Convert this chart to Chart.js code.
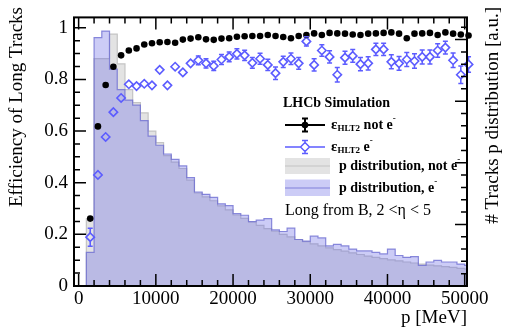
<!DOCTYPE html>
<html>
<head>
<meta charset="utf-8">
<script src="https://cdn.jsdelivr.net/npm/chart.js@4"></script>
<style>
  html, body { margin: 0; padding: 0; background: #fff; }
  #wrap { width: 506px; height: 327px; }
</style>
</head>
<body>
<div id="wrap"><canvas id="effChart" width="506" height="327"></canvas></div>
<script>
// momentum bins (lower edges, MeV), 1 GeV wide
var binWidth = 1000;
var binLow = [1000, 2000, 3000, 4000, 5000, 6000, 7000, 8000, 9000, 10000,
  11000, 12000, 13000, 14000, 15000, 16000, 17000, 18000, 19000, 20000,
  21000, 22000, 23000, 24000, 25000, 26000, 27000, 28000, 29000, 30000,
  31000, 32000, 33000, 34000, 35000, 36000, 37000, 38000, 39000, 40000,
  41000, 42000, 43000, 44000, 45000, 46000, 47000, 48000, 49000, 50000];

// HLT2 efficiency, tracks that are not electrons
var effNotE = [0.261, 0.618, 0.778, 0.849, 0.893, 0.912, 0.920, 0.935, 0.940, 0.944,
  0.945, 0.942, 0.954, 0.958, 0.963, 0.955, 0.953, 0.958, 0.959, 0.965,
  0.967, 0.968, 0.968, 0.972, 0.968, 0.964, 0.959, 0.968, 0.972, 0.978,
  0.972, 0.980, 0.978, 0.977, 0.974, 0.972, 0.977, 0.978, 0.980, 0.982,
  0.977, 0.959, 0.977, 0.978, 0.980, 0.972, 0.982, 0.977, 0.974, 0.970];
var errNotE = [0.012, 0.008, 0.006, 0.005, 0.004, 0.004, 0.004, 0.004, 0.004, 0.004,
  0.004, 0.004, 0.004, 0.004, 0.004, 0.004, 0.004, 0.004, 0.004, 0.004,
  0.004, 0.004, 0.004, 0.004, 0.004, 0.004, 0.005, 0.005, 0.005, 0.005,
  0.005, 0.005, 0.005, 0.005, 0.005, 0.005, 0.005, 0.005, 0.005, 0.005,
  0.005, 0.006, 0.005, 0.005, 0.005, 0.006, 0.005, 0.005, 0.006, 0.006];

// HLT2 efficiency, electrons
var effE = [0.189, 0.430, 0.577, 0.673, 0.728, 0.781, 0.774, 0.783, 0.777, 0.837,
  0.777, 0.849, 0.827, 0.862, 0.874, 0.862, 0.852, 0.877, 0.887, 0.899,
  0.893, 0.864, 0.880, 0.856, 0.824, 0.868, 0.880, 0.862, 0.947, 0.856,
  0.912, 0.887, 0.818, 0.884, 0.891, 0.859, 0.862, 0.916, 0.916, 0.868,
  0.862, 0.877, 0.871, 0.887, 0.887, 0.912, 0.923, 0.874, 0.818, 0.858];
var errE = [0.035, 0.012, 0.012, 0.012, 0.012, 0.012, 0.013, 0.013, 0.014, 0.014,
  0.015, 0.015, 0.016, 0.016, 0.017, 0.018, 0.018, 0.019, 0.019, 0.020,
  0.020, 0.021, 0.021, 0.022, 0.024, 0.022, 0.022, 0.023, 0.018, 0.024,
  0.022, 0.024, 0.028, 0.025, 0.025, 0.026, 0.026, 0.024, 0.024, 0.027,
  0.027, 0.027, 0.028, 0.027, 0.027, 0.026, 0.025, 0.028, 0.034, 0.030];

// momentum distributions (arbitrary units)
var histNotE = [0.260, 0.880, 0.880, 0.975, 0.860, 0.760, 0.710, 0.670, 0.600, 0.555,
  0.505, 0.480, 0.455, 0.410, 0.360, 0.345, 0.330, 0.310, 0.295, 0.275,
  0.262, 0.248, 0.235, 0.222, 0.212, 0.200, 0.190, 0.180, 0.172, 0.163,
  0.155, 0.148, 0.141, 0.135, 0.128, 0.122, 0.116, 0.111, 0.106, 0.101,
  0.097, 0.093, 0.089, 0.085, 0.081, 0.078, 0.075, 0.072, 0.068, 0.065];
var histE = [0.130, 0.962, 0.987, 0.840, 0.760, 0.720, 0.700, 0.640, 0.580, 0.545,
  0.511, 0.490, 0.465, 0.420, 0.364, 0.355, 0.343, 0.318, 0.311, 0.280,
  0.274, 0.249, 0.255, 0.261, 0.217, 0.211, 0.224, 0.180, 0.174, 0.193,
  0.186, 0.155, 0.161, 0.155, 0.143, 0.136, 0.136, 0.130, 0.124, 0.143,
  0.118, 0.111, 0.114, 0.080, 0.093, 0.099, 0.093, 0.093, 0.085, 0.080];

var xTicks = [0, 10000, 20000, 30000, 40000, 50000];
var yTicks = [0, 0.2, 0.4, 0.6, 0.8, 1];

var serif = "'Liberation Serif', 'Times New Roman', serif";
var blue = '#5c5cff';

var binCenter = binLow.map(function (lo) { return lo + binWidth / 2; });

function points(vals) {
  return vals.map(function (v, i) { return { x: binCenter[i], y: v }; });
}

// step outline: starts at zero on the first edge, closes on the last edge
function histSteps(vals) {
  var pts = [{ x: binLow[0], y: 0 }];
  binLow.forEach(function (lo, i) { pts.push({ x: lo, y: vals[i] }); });
  pts.push({ x: binLow[binLow.length - 1] + binWidth, y: vals[vals.length - 1] });
  return pts;
}

// draws a string made of pieces with their own size / vertical shift
function richText(ctx, parts, x, y) {
  parts.forEach(function (p) {
    ctx.font = (p.bold ? 'bold ' : '') + p.size + 'px ' + serif;
    ctx.fillText(p.t, x, y + (p.dy || 0));
    x += ctx.measureText(p.t).width;
  });
}

var rootStyle = {
  id: 'rootStyle',
  afterDatasetsDraw: function (chart) {
    var ctx = chart.ctx, xs = chart.scales.x, ys = chart.scales.y;
    // vertical error bars with small caps, kept outside the marker
    function bars(vals, errs, color, gap) {
      ctx.save();
      ctx.strokeStyle = color;
      ctx.lineWidth = 1.5;
      vals.forEach(function (v, i) {
        var px = xs.getPixelForValue(binCenter[i]);
        var py = ys.getPixelForValue(v);
        var top = ys.getPixelForValue(v + errs[i]);
        var bot = ys.getPixelForValue(v - errs[i]);
        ctx.beginPath();
        if (py - top > gap) {
          ctx.moveTo(px, py - gap); ctx.lineTo(px, top);
          ctx.moveTo(px - 2.5, top); ctx.lineTo(px + 2.5, top);
        }
        if (bot - py > gap) {
          ctx.moveTo(px, py + gap); ctx.lineTo(px, bot);
          ctx.moveTo(px - 2.5, bot); ctx.lineTo(px + 2.5, bot);
        }
        ctx.stroke();
      });
      ctx.restore();
    }
    bars(effE, errE, blue, 4.2);
    bars(effNotE, errNotE, '#000', 3.2);
  },
  afterDraw: function (chart) {
    var ctx = chart.ctx, a = chart.chartArea;
    var xs = chart.scales.x, ys = chart.scales.y, y2 = chart.scales.y2;
    ctx.save();
    ctx.strokeStyle = '#000';
    ctx.lineWidth = 2;
    ctx.strokeRect(a.left, a.top, a.right - a.left, a.bottom - a.top);

    ctx.lineWidth = 1.5;
    ctx.beginPath();
    // x ticks, bottom and top, pointing inwards
    for (var v = 0; v <= 50000; v += 2000) {
      var px = xs.getPixelForValue(v);
      var len = v % 10000 === 0 ? 12 : 6;
      ctx.moveTo(px, a.bottom); ctx.lineTo(px, a.bottom - len);
      ctx.moveTo(px, a.top); ctx.lineTo(px, a.top + len);
    }
    // left efficiency axis
    for (var k = 0; k <= 20; k++) {
      var py = ys.getPixelForValue(k * 0.05);
      var l = k % 4 === 0 ? 12 : 6;
      ctx.moveTo(a.left, py); ctx.lineTo(a.left + l, py);
    }
    // right distribution axis
    for (var m = 0; m <= 21; m++) {
      var qy = y2.getPixelForValue(m * 0.002);
      var ml = m % 5 === 0 ? 12 : 6;
      ctx.moveTo(a.right, qy); ctx.lineTo(a.right - ml, qy);
    }
    ctx.stroke();

    // axis titles
    ctx.fillStyle = '#000';
    ctx.font = '19px ' + serif;
    ctx.textBaseline = 'middle';
    ctx.save();
    ctx.translate(17, 7);
    ctx.rotate(-Math.PI / 2);
    ctx.textAlign = 'right';
    ctx.fillText('Efficiency of Long Tracks', 0, 0);
    ctx.restore();
    ctx.save();
    ctx.translate(493, 7);
    ctx.rotate(-Math.PI / 2);
    ctx.textAlign = 'right';
    ctx.fillText('# Tracks p distribution [a.u.]', 0, 0);
    ctx.restore();
    ctx.textAlign = 'right';
    ctx.fillText('p [MeV]', a.right, 318);

    // legend
    ctx.textAlign = 'left';
    ctx.font = 'bold 14px ' + serif;
    ctx.fillText('LHCb Simulation', 283, 103);

    ctx.lineWidth = 2;
    ctx.strokeStyle = '#000';
    ctx.beginPath();
    ctx.moveTo(285, 125); ctx.lineTo(325, 125);
    ctx.moveTo(305, 118.5); ctx.lineTo(305, 131.5);
    ctx.moveTo(302, 118.5); ctx.lineTo(308, 118.5);
    ctx.moveTo(302, 131.5); ctx.lineTo(308, 131.5);
    ctx.stroke();
    ctx.beginPath();
    ctx.arc(305, 125, 3.3, 0, Math.PI * 2);
    ctx.fill();

    ctx.strokeStyle = blue;
    ctx.lineWidth = 1.5;
    ctx.beginPath();
    ctx.moveTo(285, 147); ctx.lineTo(300.5, 147);
    ctx.moveTo(309.5, 147); ctx.lineTo(325, 147);
    ctx.moveTo(305, 140.5); ctx.lineTo(305, 142.5);
    ctx.moveTo(305, 151.5); ctx.lineTo(305, 153.5);
    ctx.moveTo(302, 140.5); ctx.lineTo(308, 140.5);
    ctx.moveTo(302, 153.5); ctx.lineTo(308, 153.5);
    ctx.moveTo(305, 142.5); ctx.lineTo(309.5, 147); ctx.lineTo(305, 151.5);
    ctx.lineTo(300.5, 147); ctx.closePath();
    ctx.stroke();

    ctx.fillStyle = 'rgba(200,200,200,0.5)';
    ctx.fillRect(285, 158, 45, 16);
    ctx.strokeStyle = '#c4c4c4';
    ctx.lineWidth = 1.2;
    ctx.beginPath(); ctx.moveTo(285, 166); ctx.lineTo(330, 166); ctx.stroke();
    ctx.fillStyle = 'rgba(110,110,230,0.35)';
    ctx.fillRect(285, 179.5, 45, 16.5);
    ctx.strokeStyle = 'rgba(110,110,210,0.8)';
    ctx.beginPath(); ctx.moveTo(285, 188); ctx.lineTo(330, 188); ctx.stroke();

    ctx.fillStyle = '#000';
    richText(ctx, [{ t: '\u03b5', size: 15, bold: true }, { t: 'HLT2', size: 9, bold: true, dy: 4 },
      { t: ' not e', size: 14, bold: true }, { t: '-', size: 9, bold: true, dy: -6 }], 331, 125);
    richText(ctx, [{ t: '\u03b5', size: 15, bold: true }, { t: 'HLT2', size: 9, bold: true, dy: 4 },
      { t: ' e', size: 14, bold: true }, { t: '-', size: 9, bold: true, dy: -6 }], 331, 147);
    richText(ctx, [{ t: 'p distribution, not e', size: 14, bold: true }, { t: '-', size: 9, bold: true, dy: -6 }], 339, 166);
    richText(ctx, [{ t: 'p distribution, e', size: 14, bold: true }, { t: '-', size: 9, bold: true, dy: -6 }], 339, 188);
    richText(ctx, [{ t: 'Long from B, 2 <\u03b7 < 5', size: 16 }], 285, 211);
    ctx.restore();
  }
};

new Chart(document.getElementById('effChart').getContext('2d'), {
  type: 'scatter',
  data: {
    datasets: [
      {
        label: 'eff not e',
        data: points(effNotE),
        pointStyle: 'circle',
        pointRadius: 3.3,
        backgroundColor: '#000',
        borderColor: '#000',
        borderWidth: 0,
        clip: false,
        order: 0
      },
      {
        label: 'eff e',
        data: points(effE),
        pointStyle: 'rectRot',
        pointRadius: 4.2,
        backgroundColor: 'rgba(0,0,0,0)',
        borderColor: blue,
        borderWidth: 1.6,
        clip: false,
        order: 1
      },
      {
        type: 'line',
        label: 'p e',
        data: histSteps(histE),
        stepped: 'before',
        fill: 'origin',
        backgroundColor: 'rgba(110,110,230,0.35)',
        borderColor: 'rgba(110,110,210,0.8)',
        borderWidth: 1.2,
        pointRadius: 0,
        order: 2
      },
      {
        type: 'line',
        label: 'p not e',
        data: histSteps(histNotE),
        stepped: 'before',
        fill: 'origin',
        backgroundColor: 'rgba(200,200,200,0.5)',
        borderColor: '#c4c4c4',
        borderWidth: 1.2,
        pointRadius: 0,
        order: 3
      }
    ]
  },
  options: {
    responsive: false,
    animation: false,
    events: [],
    layout: { padding: { top: 9, left: 0, right: 0, bottom: 0 } },
    plugins: { legend: { display: false }, tooltip: { enabled: false } },
    scales: {
      x: {
        type: 'linear',
        min: -600,
        max: 50300,
        afterFit: function (s) { s.height = 41; },
        afterBuildTicks: function (s) { s.ticks = xTicks.map(function (v) { return { value: v }; }); },
        grid: { display: false, drawTicks: false },
        border: { display: false },
        ticks: {
          color: '#000',
          font: { family: serif, size: 19 },
          padding: 2,
          maxRotation: 0,
          autoSkip: false,
          callback: function (v) { return String(v); }
        }
      },
      y: {
        min: 0,
        max: 1.04,
        afterFit: function (s) { s.width = 74; },
        afterBuildTicks: function (s) { s.ticks = yTicks.map(function (v) { return { value: v }; }); },
        grid: { display: false, drawTicks: false },
        border: { display: false },
        ticks: {
          color: '#000',
          font: { family: serif, size: 19 },
          padding: 6,
          callback: function (v) { return String(v); }
        }
      },
      y2: {
        position: 'right',
        min: 0,
        max: 0.0436,
        afterFit: function (s) { s.width = 39; },
        grid: { display: false, drawTicks: false },
        border: { display: false },
        ticks: { display: false }
      }
    }
  },
  plugins: [rootStyle]
});
</script>
</body>
</html>
